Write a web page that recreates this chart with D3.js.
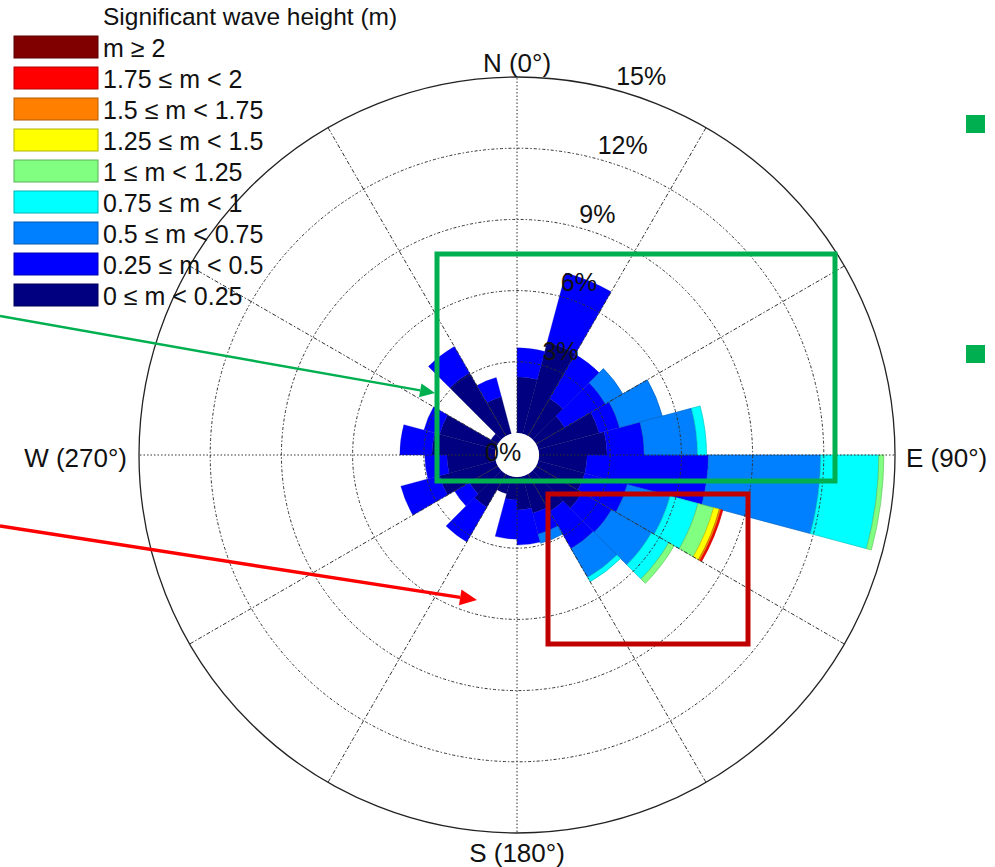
<!DOCTYPE html>
<html>
<head>
<meta charset="utf-8">
<script src="https://cdn.jsdelivr.net/npm/d3@7/dist/d3.min.js"></script>
<style>
  body { margin: 0; background: #fff; }
  svg text { font-family: "Liberation Sans", Arial, Helvetica, sans-serif; fill: #111; }
</style>
</head>
<body>
<div id="chart"></div>
<script>
// direction sectors (start angle, deg clockwise from N), 15 deg wide
const directions = d3.range(0, 360, 15)

// frequency (%) of each significant wave height class, per sector
const hs_0_025   = [2.37, 4.0, 1.82, 1.39, 2.66, 2.87, 2.03, 2.03, 2.24, 1.82, 1.61, 1.39, 0.97, 0.76, 1.61, 1.39, 2.45, 2.03, 2.66, 2.45, 0.34, 3.08, 1.61, 0]
const hs_025_05  = [1.22, 3.01, 2.15, 1.99, 0.89, 1.57, 5.11, 1.86, 1.44, 1.81, 0.92, 1.48, 1.65, 0, 1.69, 0.72, 1.69, 0.93, 1.35, 0.68, 0, 1.27, 0.84, 0]
const hs_05_075  = [0, 0, 0, 0.84, 1.86, 2.24, 4.73, 1.86, 1.94, 1.40, 0.39, 0, 0, 0, 0, 0, 0, 0, 0, 0, 0, 0, 0, 0]
const hs_075_1   = [0, 0, 0, 0, 0, 0.38, 2.45, 1.22, 0.84, 0.21, 0, 0, 0, 0, 0, 0, 0, 0, 0, 0, 0, 0, 0, 0]
const hs_1_125   = [0, 0, 0, 0, 0, 0, 0.21, 0.68, 0.26, 0, 0, 0, 0, 0, 0, 0, 0, 0, 0, 0, 0, 0, 0, 0]
const hs_125_15  = [0, 0, 0, 0, 0, 0, 0, 0.25, 0, 0, 0, 0, 0, 0, 0, 0, 0, 0, 0, 0, 0, 0, 0, 0]
const hs_15_175  = [0, 0, 0, 0, 0, 0, 0, 0.08, 0, 0, 0, 0, 0, 0, 0, 0, 0, 0, 0, 0, 0, 0, 0, 0]
const hs_175_2   = [0, 0, 0, 0, 0, 0, 0, 0.07, 0, 0, 0, 0, 0, 0, 0, 0, 0, 0, 0, 0, 0, 0, 0, 0]
const hs_2       = [0, 0, 0, 0, 0, 0, 0, 0, 0, 0, 0, 0, 0, 0, 0, 0, 0, 0, 0, 0, 0, 0, 0, 0]

const classKeys = ['c0', 'c1', 'c2', 'c3', 'c4', 'c5', 'c6', 'c7', 'c8']
const classSeries = [hs_0_025, hs_025_05, hs_05_075, hs_075_1, hs_1_125, hs_125_15, hs_15_175, hs_175_2, hs_2]
const classColors = ['#000080', '#0000ff', '#0080ff', '#00ffff', '#80ff80', '#ffff00', '#ff8000', '#ff0000', '#800000']
const classLabels = ['0 \u2264 m < 0.25', '0.25 \u2264 m < 0.5', '0.5 \u2264 m < 0.75', '0.75 \u2264 m < 1',
  '1 \u2264 m < 1.25', '1.25 \u2264 m < 1.5', '1.5 \u2264 m < 1.75', '1.75 \u2264 m < 2', 'm \u2265 2']
const legendTitle = 'Significant wave height (m)'

const ringTicks = [3, 6, 9, 12, 15]
const compassLabels = ['N (0\u00b0)', 'E (90\u00b0)', 'S (180\u00b0)', 'W (270\u00b0)']

const width = 995, height = 867
const cx = 517, cy = 455
const rHole = 22, rMax = 378
const step = 15 * Math.PI / 180
const rad = a => a * Math.PI / 180

const svg = d3.select('#chart').append('svg')
  .attr('width', width)
  .attr('height', height)

const rScale = d3.scaleLinear().domain([0, 15]).range([rHole, rMax])

// table for the stack
const table = directions.map((dir, i) => {
  const row = { dir }
  classKeys.forEach((k, j) => { row[k] = classSeries[j][i] })
  return row
})
const stacked = d3.stack().keys(classKeys)(table)

const g = svg.append('g').attr('transform', 'translate(' + cx + ',' + cy + ')')

const arc = d3.arc()
  .innerRadius(d => rScale(d[0]))
  .outerRadius(d => rScale(d[1]))
  .startAngle(d => rad(d.data.dir))
  .endAngle(d => rad(d.data.dir) + step)

// bars
stacked.forEach((layer, j) => {
  g.append('g')
    .selectAll('path')
    .data(layer.filter(d => d[1] - d[0] > 0))
    .enter()
    .append('path')
    .attr('d', arc)
    .attr('fill', classColors[j])
    .attr('stroke', d3.color(classColors[j]).darker(0.7))
    .attr('stroke-width', j > 1 ? 0.7 : 0.3)
})

// grid rings
ringTicks.forEach(t => {
  g.append('circle')
    .attr('r', rScale(t))
    .attr('fill', 'none')
    .attr('stroke', t === 15 ? '#222' : '#333')
    .attr('stroke-width', t === 15 ? 1.3 : 1)
    .attr('stroke-dasharray', t === 15 ? null : '3,2,1.5,2')
})

// spokes every 30 deg
d3.range(0, 360, 30).forEach(a => {
  const s = Math.sin(rad(a)), c = -Math.cos(rad(a))
  g.append('line')
    .attr('x1', s * rHole).attr('y1', c * rHole)
    .attr('x2', s * rMax).attr('y2', c * rMax)
    .attr('stroke', '#333')
    .attr('stroke-width', 1)
    .attr('stroke-dasharray', a % 90 === 0 ? '1.5,2' : '4,2,1.5,2')
})

// centre hole
g.append('circle').attr('r', rHole).attr('fill', '#fff')

// ring labels
const labA = rad(15)
ringTicks.forEach(t => {
  const r = rScale(t) + 5
  g.append('text')
    .attr('x', r * Math.sin(labA))
    .attr('y', -r * Math.cos(labA))
    .attr('font-size', 25)
    .text(t + '%')
})
g.append('text')
  .attr('x', -32).attr('y', 6)
  .attr('font-size', 25)
  .text('0%')

// compass labels
const compassPos = [
  { x: 0, y: -383, anchor: 'middle' },
  { x: 389, y: 12, anchor: 'start' },
  { x: 0, y: 407, anchor: 'middle' },
  { x: -390, y: 12, anchor: 'end' }
]
compassLabels.forEach((lab, i) => {
  g.append('text')
    .attr('x', compassPos[i].x)
    .attr('y', compassPos[i].y)
    .attr('text-anchor', compassPos[i].anchor)
    .attr('font-size', 26)
    .text(lab)
})

// legend
const legend = svg.append('g').attr('transform', 'translate(14,0)')
legend.append('text')
  .attr('x', 89).attr('y', 25)
  .attr('font-size', 24.5)
  .text(legendTitle)
const order = d3.range(classKeys.length).reverse()
order.forEach((j, i) => {
  const y = 36 + 31 * i
  legend.append('rect')
    .attr('x', 0).attr('y', y)
    .attr('width', 84).attr('height', 22)
    .attr('fill', classColors[j])
    .attr('stroke', d3.color(classColors[j]).darker(1))
    .attr('stroke-width', 1)
  legend.append('text')
    .attr('x', 89).attr('y', y + 21)
    .attr('font-size', 25)
    .text(classLabels[j])
})

// annotations
const green = '#00b050'
svg.append('rect')
  .attr('x', 437).attr('y', 254).attr('width', 398).attr('height', 227)
  .attr('fill', 'none').attr('stroke', green).attr('stroke-width', 5)
svg.append('rect')
  .attr('x', 548).attr('y', 494).attr('width', 200).attr('height', 150)
  .attr('fill', 'none').attr('stroke', '#c00000').attr('stroke-width', 5)
;[115, 345].forEach(y => {
  svg.append('rect')
    .attr('x', 966).attr('y', y).attr('width', 19).attr('height', 18)
    .attr('fill', green)
})

function drawArrow (x1, y1, x2, y2, color, w, headLen, headW) {
  const ang = Math.atan2(y2 - y1, x2 - x1)
  const bx = x2 - headLen * Math.cos(ang), by = y2 - headLen * Math.sin(ang)
  svg.append('line')
    .attr('x1', x1).attr('y1', y1).attr('x2', bx).attr('y2', by)
    .attr('stroke', color).attr('stroke-width', w)
  const px = Math.sin(ang) * headW / 2, py = -Math.cos(ang) * headW / 2
  svg.append('path')
    .attr('d', 'M' + x2 + ',' + y2 + 'L' + (bx + px) + ',' + (by + py) + 'L' + (bx - px) + ',' + (by - py) + 'Z')
    .attr('fill', color)
}
drawArrow(0, 316, 435, 393, green, 2.5, 15, 14)
drawArrow(0, 526, 477, 600, '#ff0000', 3.5, 17, 16)
</script>
</body>
</html>
